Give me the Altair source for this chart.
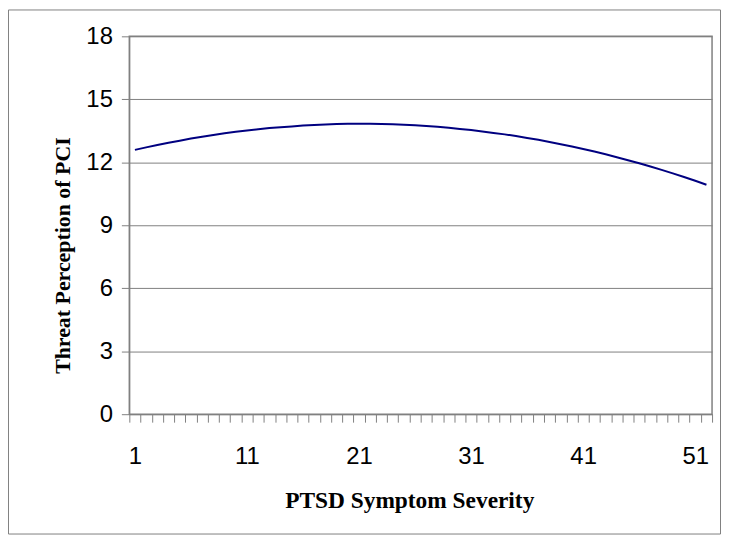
import altair as alt
import pandas as pd

severity = list(range(1, 53))
threat = [12.59, 12.71, 12.82, 12.93, 13.03, 13.13, 13.22, 13.30, 13.38, 13.45,
          13.51, 13.57, 13.63, 13.67, 13.71, 13.75, 13.78, 13.80, 13.82, 13.83,
          13.83, 13.83, 13.82, 13.81, 13.79, 13.76, 13.73, 13.69, 13.64, 13.59,
          13.54, 13.47, 13.40, 13.33, 13.25, 13.16, 13.07, 12.97, 12.86, 12.75,
          12.63, 12.51, 12.38, 12.24, 12.10, 11.95, 11.80, 11.64, 11.47, 11.30,
          11.12, 10.93]
y_ticks = [0, 3, 6, 9, 12, 15, 18]
x_tick_edges = [i + 0.5 for i in range(0, 53)]

df = pd.DataFrame({"severity": severity, "threat": threat})

W, H = 586, 380

line = alt.Chart(df).mark_line(color="#000080", strokeWidth=2).encode(
    x=alt.X("severity:Q",
            scale=alt.Scale(domain=[0.5, 52.5], nice=False, zero=False),
            axis=alt.Axis(values=x_tick_edges, grid=False,
                          labelExpr="((datum.value - 0.5) % 10 == 0 && datum.value < 52) ? format(datum.value + 0.5, 'd') : ''",
                          labelOffset=5.6, labelAlign="center", labelBaseline="top",
                          labelPadding=23, labelFontSize=24, labelFont="Liberation Sans",
                          labelColor="#000000", labelOverlap=False, labelFlush=False,
                          tickSize=8, tickColor="#808080", domainColor="#808080",
                          title="PTSD Symptom Severity", titleFont="Liberation Serif",
                          titleFontSize=23.5, titleFontWeight="bold", titleColor="#000000",
                          titleX=281.5, titleY=87, titleBaseline="middle")),
    y=alt.Y("threat:Q",
            scale=alt.Scale(domain=[0, 18], nice=False),
            axis=alt.Axis(values=y_ticks, grid=True, gridColor="#808080",
                          labelFontSize=24, labelFont="Liberation Sans",
                          labelColor="#000000", labelPadding=9,
                          tickSize=8, tickColor="#808080", domainColor="#808080",
                          title="Threat Perception of PCI", titleFont="Liberation Serif",
                          titleFontSize=22, titleFontWeight="bold", titleColor="#000000",
                          titleX=-67, titleY=220, titleAngle=-90,
                          titleAlign="center", titleBaseline="middle")),
)

frame = alt.Chart(pd.DataFrame({"a": [0]})).mark_rect(
    filled=False, stroke="#808080", strokeWidth=1
).encode(
    x=alt.value(-121.5), x2=alt.value(594.5),
    y=alt.value(-26.5), y2=alt.value(500.5),
)

chart = alt.layer(line, frame).properties(
    width=W, height=H,
    autosize=alt.AutoSizeParams(type="none"),
    padding={"left": 122, "top": 27, "right": 9, "bottom": 121},
    background="#ffffff",
).configure_view(stroke="#808080", strokeWidth=1.5)

chart.save("out.html", embed_options={"renderer": "svg", "actions": False})
